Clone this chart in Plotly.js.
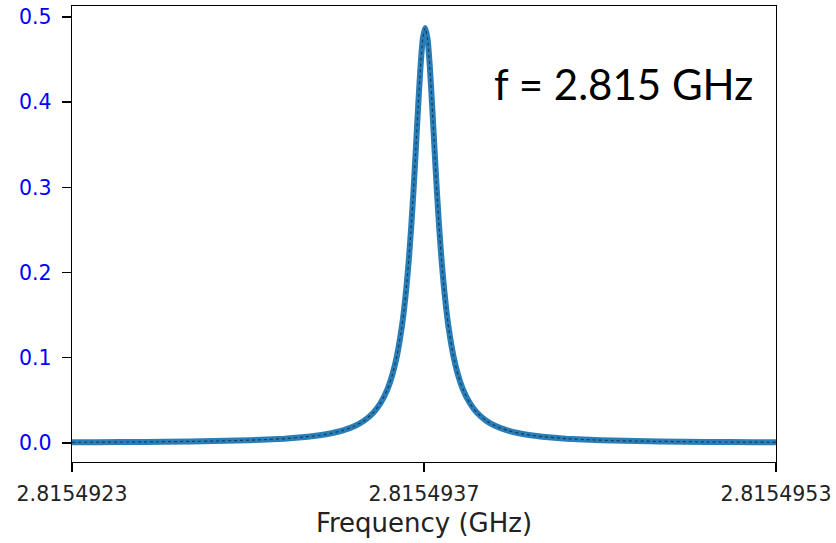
<!DOCTYPE html>
<html>
<head>
<meta charset="utf-8">
<script src="https://cdn.plot.ly/plotly-3.0.1.min.js"></script>
<style>html,body{margin:0;padding:0;background:#fff;}#chart{width:836px;height:543px;}</style>
</head>
<body>
<div id="chart"></div>
<script>
// Peak (resonance) frequency, GHz
const PEAK_GHZ = 2.815493755;
// Detuning from the peak, Hz
const detuneHz = [-1505, -1400, -1200, -1000, -900, -800, -700, -600, -500, -450, -400, -350, -300, -260, -220, -190, -160, -140, -120, -100, -90, -80, -70, -60, -50, -40, -30, -20, -10, 0,
  10, 20, 30, 40, 50, 60, 70, 80, 90, 100, 120, 140, 160, 190, 220, 260, 300, 350, 400, 450, 500, 600, 700, 800, 900, 1000, 1200, 1400, 1495];
// Signal amplitude
const amplitude = [0.0008, 0.0010, 0.0013, 0.0019, 0.0023, 0.0029, 0.0038, 0.0051, 0.0074, 0.0091, 0.0114, 0.0148, 0.0199, 0.0262, 0.0358, 0.0469, 0.0636, 0.0799, 0.1026, 0.1352, 0.1567, 0.1827, 0.2141, 0.2515, 0.2951, 0.3439, 0.3946, 0.4411, 0.4747, 0.4870,
  0.4747, 0.4411, 0.3946, 0.3439, 0.2951, 0.2515, 0.2141, 0.1827, 0.1567, 0.1352, 0.1026, 0.0799, 0.0636, 0.0469, 0.0358, 0.0262, 0.0199, 0.0148, 0.0114, 0.0091, 0.0074, 0.0051, 0.0038, 0.0029, 0.0023, 0.0019, 0.0013, 0.0010, 0.0008];
// Axis ticks
const xTickVals = [2.81549225, 2.81549375, 2.81549525];
const xTickText = ['2.8154923', '2.8154937', '2.8154953'];
const yTickVals = [0.0, 0.1, 0.2, 0.3, 0.4, 0.5];
const yTickText = ['0.0', '0.1', '0.2', '0.3', '0.4', '0.5'];
const annotationText = 'f = 2.815 GHz';

const freqGHz = detuneHz.map(d => PEAK_GHZ + d * 1e-9);

const traces = [
  {x: freqGHz, y: amplitude, type: 'scatter', mode: 'lines', line: {color: 'rgba(31,119,180,0.95)', width: 6, shape: 'spline', smoothing: 0.5}, hoverinfo: 'skip'},
  {x: freqGHz, y: amplitude, type: 'scatter', mode: 'lines', line: {color: '#173d5e', width: 1.2, dash: 'dot', shape: 'spline', smoothing: 0.5}, hoverinfo: 'skip'}
];

const axisCommon = {
  showline: true, linecolor: '#000', linewidth: 1.4, mirror: true,
  ticks: 'outside', ticklen: 9, tickwidth: 1.4, tickcolor: '#000',
  showgrid: false, zeroline: false
};

const layout = {
  width: 836, height: 543,
  margin: {l: 72, r: 60, t: 6, b: 81},
  paper_bgcolor: '#fff', plot_bgcolor: '#fff',
  showlegend: false,
  font: {family: 'DejaVu Sans', color: '#000'},
  xaxis: Object.assign({}, axisCommon, {
    range: [xTickVals[0], xTickVals[2]],
    tickmode: 'array', tickvals: xTickVals, ticktext: xTickText,
    tickfont: {family: 'DejaVu Sans', size: 20.5, color: '#222'},
    ticklabelstandoff: 4,
    title: {text: 'Frequency (GHz)', font: {family: 'DejaVu Sans', size: 26, color: '#222'}, standoff: 8}
  }),
  yaxis: Object.assign({}, axisCommon, {
    range: [-0.0223, 0.5129],
    tickmode: 'array', tickvals: yTickVals, ticktext: yTickText,
    tickfont: {family: 'DejaVu Sans', size: 20.5, color: '#0000ff'},
    ticklabelstandoff: 6
  }),
  annotations: [{
    text: annotationText, xref: 'paper', yref: 'paper', x: 0.784, y: 0.83,
    xanchor: 'center', yanchor: 'middle', showarrow: false,
    font: {family: 'Lato', size: 42, color: '#000'}
  }]
};

Plotly.newPlot('chart', traces, layout, {staticPlot: true, displayModeBar: false});
</script>
</body>
</html>
